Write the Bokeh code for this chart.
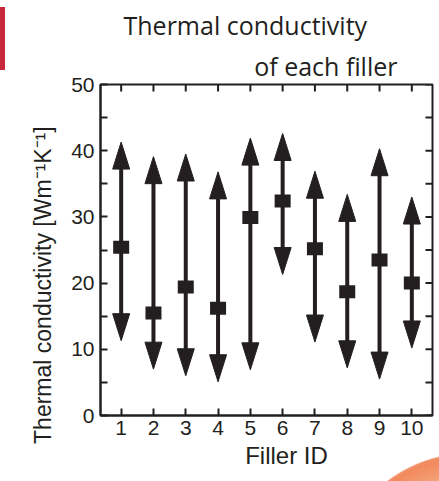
import math
from bokeh.plotting import figure
from bokeh.models import FixedTicker, Range1d, ColumnDataSource, Title
from bokeh.embed import file_html
from bokeh.resources import INLINE

# ---- data ----
filler_ids = [1, 2, 3, 4, 5, 6, 7, 8, 9, 10]
upper = [41.3, 39.1, 39.5, 36.8, 41.9, 42.6, 36.9, 33.4, 40.3, 33.0]
lower = [11.3, 7.0, 6.0, 5.1, 6.9, 21.3, 11.1, 7.2, 5.5, 10.2]
typical = [25.4, 15.5, 19.4, 16.2, 29.9, 32.4, 25.2, 18.7, 23.5, 20.0]
y_major = [0, 10, 20, 30, 40, 50]
y_minor = [5, 15, 25, 35, 45]
x_tick_labels = ["1", "2", "3", "4", "5", "6", "7", "8", "9", "10"]
title_lines = ["Thermal conductivity", "of each filler"]
x_title = "Filler ID"
y_title = "Thermal conductivity [Wm\u207b\u00b9K\u207b\u00b9]"

INK = "#231f20"
FONT = "Liberation Sans"
NB = "\u00a0"

X0, X1 = 0.36, 10.64
Y0, Y1 = 0.0, 50.0
FW, FH = 332, 331

# decoration drawn as the page background behind a transparent canvas
deco = ("linear-gradient(#c8283c, #c8283c) 0px 7px / 5px 63px no-repeat, "
        "radial-gradient(circle 137px at 470px 590px, #fcd9c4 0px, #f9b896 95px, "
        "#f28a5c 133px, #f39068 136px, rgba(255,255,255,0) 137.5px) no-repeat, white")

p = figure(frame_width=FW, frame_height=FH,
           x_range=Range1d(X0, X1), y_range=Range1d(Y0, Y1),
           output_backend="svg", toolbar_location=None, title_location=None,
           min_border_left=100, min_border_right=7,
           min_border_top=84, min_border_bottom=66,
           background_fill_color="white", border_fill_alpha=0)
p.styles = {"background": deco}
p.xgrid.visible = False
p.ygrid.visible = False
p.outline_line_color = INK
p.outline_line_width = 2

# head geometry derived from pixel scale
px_y = (Y1 - Y0) / FH
px_x = (X1 - X0) / FW
HL = 27 * px_y
HW = 8.5 * px_x

src = ColumnDataSource(dict(
    x=filler_ids, up=upper, lo=lower, mid=typical,
    shaft_top=[u - HL * 0.5 for u in upper],
    shaft_bot=[l + HL * 0.5 for l in lower],
))
p.segment(x0="x", y0="shaft_bot", x1="x", y1="shaft_top", source=src,
          line_color=INK, line_width=4)

xs, ys = [], []
for xi, u, l in zip(filler_ids, upper, lower):
    xs.append([xi - HW, xi, xi + HW]); ys.append([u - HL, u, u - HL])
    xs.append([xi - HW, xi, xi + HW]); ys.append([l + HL, l, l + HL])
p.patches(xs=xs, ys=ys, fill_color=INK, line_color=INK, line_width=1)

p.rect(x="x", y="mid", width=16, height=13, width_units="screen",
       height_units="screen", source=src, fill_color=INK, line_color=None)

# inward ticks on top and right
p.ray(x=filler_ids, y=[Y1] * len(filler_ids), length=7, length_units="screen",
      angle=-math.pi / 2, line_color=INK, line_width=2)
p.ray(x=[X1] * (len(y_major) + len(y_minor)), y=y_major + y_minor, length=7,
      length_units="screen", angle=math.pi, line_color=INK, line_width=2)

# axes
ax = p.xaxis[0]
ax.ticker = FixedTicker(ticks=filler_ids)
ax.major_label_overrides = {i: t for i, t in zip(filler_ids, x_tick_labels)}
ax.axis_label = NB * 6 + x_title
ay = p.yaxis[0]
ay.ticker = FixedTicker(ticks=y_major, minor_ticks=y_minor)
ay.axis_label = y_title + NB * 11
for a in (ax, ay):
    a.axis_line_color = INK
    a.axis_line_width = 2
    a.major_tick_in = 7
    a.major_tick_out = 0
    a.minor_tick_in = 7
    a.minor_tick_out = 0
    a.major_tick_line_color = INK
    a.major_tick_line_width = 2
    a.minor_tick_line_color = INK
    a.minor_tick_line_width = 2
    a.major_label_text_font = FONT
    a.major_label_text_font_size = "21px"
    a.major_label_text_color = INK
    a.axis_label_text_font = FONT
    a.axis_label_text_font_size = "24px"
    a.axis_label_text_font_style = "normal"
    a.axis_label_text_color = INK
ay.axis_label_text_font_size = "23px"
ax.major_label_standoff = 5
ax.axis_label_standoff = 4
ay.major_label_standoff = 6
ay.axis_label_standoff = 12

# two-line title
t2 = Title(text=title_lines[1], align="right", offset=35, standoff=4,
           text_font="Open Sans", text_font_size="25px", text_font_style="normal",
           text_color=INK)
t1 = Title(text=title_lines[0], align="left", offset=23, standoff=5,
           text_font="Open Sans", text_font_size="25px", text_font_style="normal",
           text_color=INK)
p.add_layout(t2, "above")
p.add_layout(t1, "above")

open("out.html", "w").write(file_html(p, INLINE))
